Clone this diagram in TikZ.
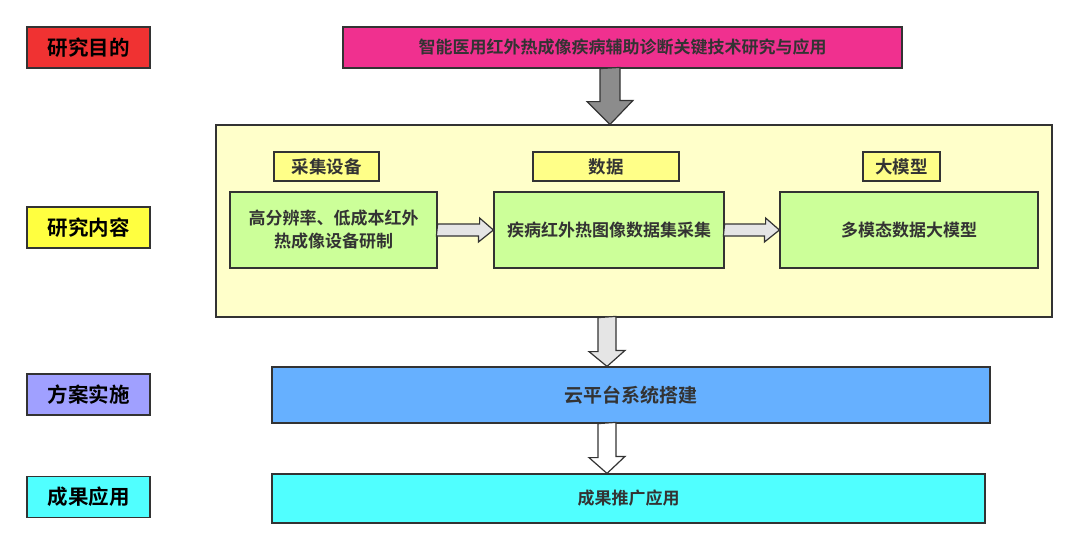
\documentclass[tikz,border=0pt]{standalone}
\usepackage{fontspec}
\setmainfont{Noto Sans CJK SC}
\newfontfamily\cjkb{Noto Sans CJK SC Bold}
\usetikzlibrary{calc}
\definecolor{cred}{HTML}{F03232}
\definecolor{cyel}{HTML}{FFFF40}
\definecolor{clav}{HTML}{A0A0FF}
\definecolor{ccyan}{HTML}{50FFFF}
\definecolor{cmag}{HTML}{F0308F}
\definecolor{cpanel}{HTML}{FFFFCA}
\definecolor{chead}{HTML}{FFFF88}
\definecolor{cgreen}{HTML}{CCFF99}
\definecolor{cblue}{HTML}{66B0FF}
\definecolor{ctxt}{HTML}{333333}
\tikzset{
 box/.style={draw=black!80, line width=1.2pt, inner sep=0pt, text=ctxt, font=\cjkb},
 lbl/.style={box, minimum width=123pt, minimum height=41pt, font=\cjkb\fontsize{20.5}{24}\selectfont, text=black},
 head/.style={box, fill=chead, minimum height=29pt, font=\cjkb\fontsize{17.5}{20}\selectfont},
 green/.style={box, fill=cgreen, minimum height=76pt, font=\cjkb\fontsize{17}{23}\selectfont, align=center},
 barr/.style={draw=black!80, line width=1.2pt, line join=miter},
}
\begin{document}
\begin{tikzpicture}[x=1pt,y=-1pt]
\useasboundingbox[fill=white] (0,0) rectangle (1079,550);
\node[lbl, fill=cred] (l1) at (88.5,47.5) {研究目的};
\node[lbl, fill=cyel] (l2) at (88.5,227.5) {研究内容};
\node[lbl, fill=clav] (l3) at (88.5,394.5) {方案实施};
\node[lbl, fill=ccyan] (l4) at (88.5,497) {成果应用};
\node[box, fill=cmag, minimum width=559pt, minimum height=41pt, font=\cjkb\fontsize{17}{20}\selectfont] (goal) at (622.5,47.5) {智能医用红外热成像疾病辅助诊断关键技术研究与应用};
\node[box, fill=cpanel, minimum width=836pt, minimum height=192pt] (panel) at (634,221) {};
\node[head, minimum width=105pt] (h1) at (326.5,166.5) {采集设备};
\node[head, minimum width=146pt] (h2) at (606,166.5) {数据};
\node[head, minimum width=77pt] (h3) at (901.5,166.5) {大模型};
\node[green, minimum width=207pt] (g1) at (333.5,230) {高分辨率、低成本红外\\热成像设备研制};
\node[green, minimum width=230pt] (g2) at (609,230) {疾病红外热图像数据集采集};
\node[green, minimum width=258pt] (g3) at (909,230) {多模态数据大模型};
\node[box, fill=cblue, minimum width=718pt, minimum height=56pt, font=\cjkb\fontsize{19}{22}\selectfont] (blue) at (631,395) {云平台系统搭建};
\node[box, fill=ccyan, minimum width=713pt, minimum height=49pt, font=\cjkb\fontsize{17}{20}\selectfont] (cyan) at (628.5,498.5) {成果推广应用};
% gray arrow
\coordinate (a1) at (610,68);
\draw[barr, fill=black!45] (a1 |- goal.south) ++(-10,0) -- ++(0,33) -- ++(-13,0) -- (a1 |- panel.north) -- ++(23,-24) -- ++(-13,0) -- ++(0,-33) -- cycle;
% white arrows down
\coordinate (a2) at (607,0);
\draw[barr, fill=black!10] (a2 |- panel.south) ++(-9,0) -- ++(0,34) -- ++(-9,0) -- (a2 |- blue.north) -- ++(18,-16) -- ++(-9,0) -- ++(0,-34) -- cycle;
\draw[barr, fill=white] (a2 |- blue.south) ++(-9,0) -- ++(0,34) -- ++(-9,0) -- (a2 |- cyan.north) -- ++(18,-17) -- ++(-9,0) -- ++(0,-34) -- cycle;
% horizontal arrows
\draw[barr, fill=black!10] (g1.east) ++(0,-6) -- ++(42,0) -- ++(0,-6) -- (g2.west) -- ++(-15,12) -- ++(0,-6) -- ++(-42,0) -- cycle;
\draw[barr, fill=black!10] (g2.east) ++(0,-6) -- ++(41,0) -- ++(0,-6) -- (g3.west) -- ++(-15,12) -- ++(0,-6) -- ++(-41,0) -- cycle;
\end{tikzpicture}
\end{document}
